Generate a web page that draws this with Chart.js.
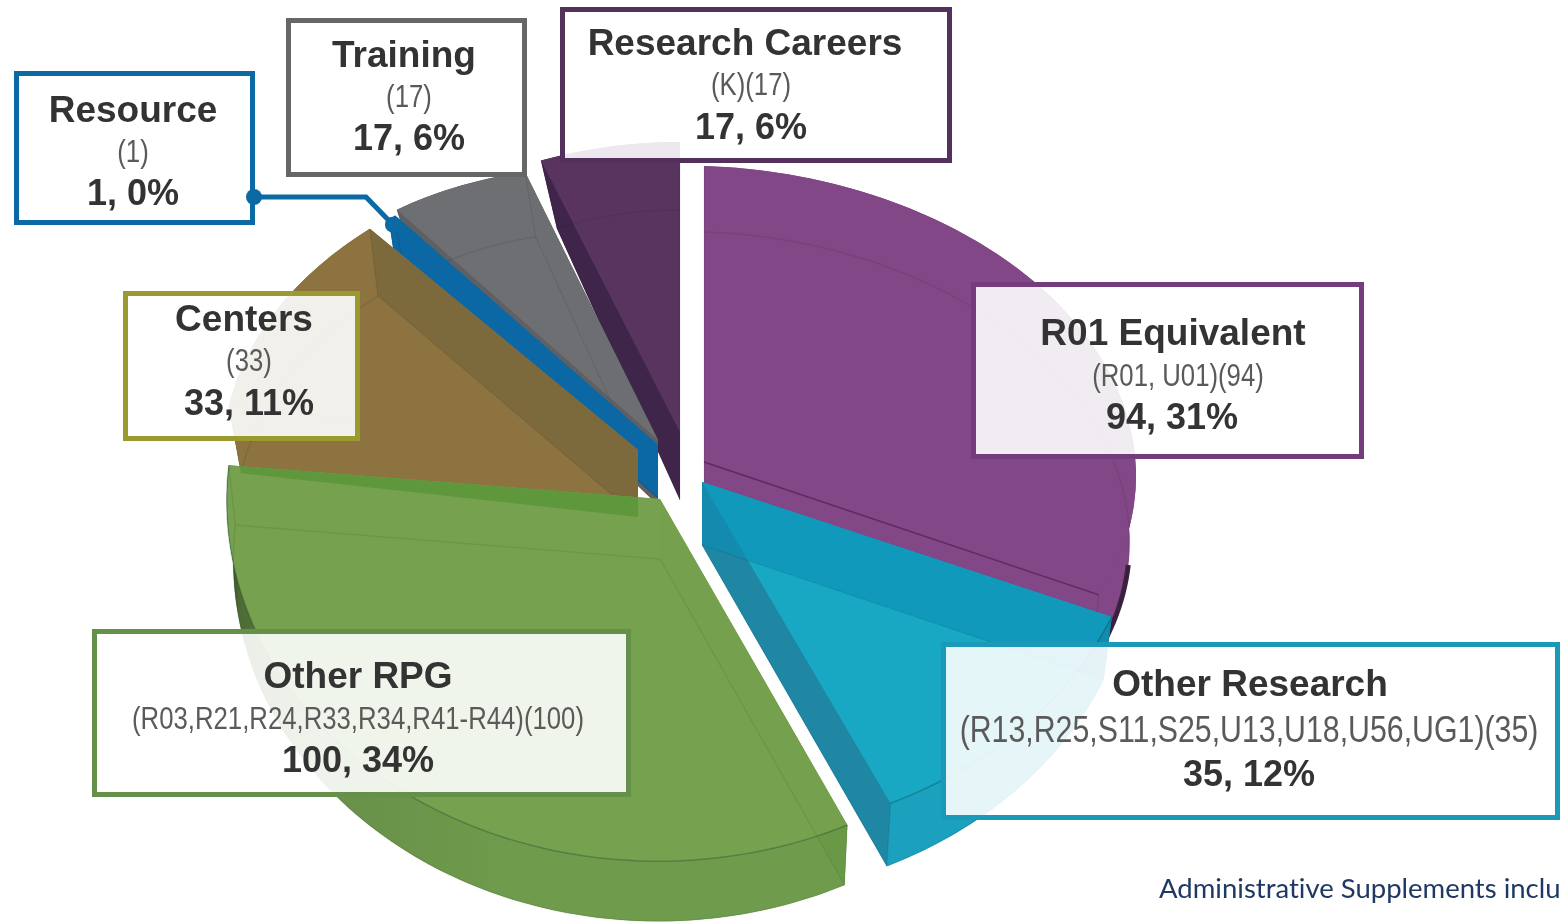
<!DOCTYPE html>
<html><head><meta charset="utf-8">
<style>html,body{margin:0;padding:0;background:#fff;overflow:hidden}canvas{display:block}</style>
<script src="https://cdn.jsdelivr.net/npm/chart.js@4"></script></head>
<body><canvas id="c" width="1560" height="923"></canvas>
<script>
const categories=['R01 Equivalent','Other Research','Other RPG','Centers','Resource','Training','Research Careers'];
const counts=[94,35,100,33,1,17,17];
const codes=['(R01, U01)(94)','(R13,R25,S11,S25,U13,U18,U56,UG1)(35)','(R03,R21,R24,R33,R34,R41-R44)(100)','(33)','(1)','(17)','(K)(17)'];
const valueLabels=['94, 31%','35, 12%','100, 34%','33, 11%','1, 0%','17, 6%','17, 6%'];
const topColors=['#824786','#19a8c4','#76a14f','#8c7340','#0c68a4','#6e6f73','#59345f'];
const wallColors=['#824786','#1f86a3','#6a9a48','#8c7340','#0c68a4','#5f6064','#3f2549'];
const rimColors=['#824786','#1ba0bd','#6c9a4b','#7c6a3a','#0c68a4','#5f6064','#3f2549'];
const seeColors=['#7a3f80','#0a8fb5','#6a9a48','#75653a','#0c68a4','#5f6064','#3f2549'];
const borderColors=['#743c7c','#1a9ab8','#64904a','#9a9a2e','#0b6aa3','#666666','#54305c'];
// projection of each slice onto the page: apex, horizontal axis, vertical axis, extrusion depth, bottom shrink
const frames=[
 {ax:704,ay:462,xx:432,xy:14,yx:0,yy:296,depth:66,s:.985},
 {ax:702,ay:482,xx:443,xy:-10,yx:12,yy:355,depth:63,s:.98},
 {ax:660,ay:499,xx:433,xy:-14,yx:15,yy:362,depth:60,s:.985},
 {ax:638,ay:450,xx:415,xy:5,yx:-16,yy:295,depth:67,s:.97},
 {ax:658,ay:445,xx:399,xy:0,yx:0,yy:305,depth:53,s:.97},
 {ax:658,ay:440,xx:410,xy:39,yx:-12,yy:272,depth:65,s:.92},
 {ax:680,ay:432,xx:395,xy:0,yx:0,yy:290,depth:68,s:.885}
];
const seeThrough=[[0,0],[.6,0],[0.02,.0],[0,.7],[0,0],[.06,.08],[0,0]];
const drawOrder=[6,5,4,3,2,0,1];
const boxes=[[971,282,393,177],[941,642,619,178],[92,629,539,168],[123,291,237,150],[14,71,241,154],[286,18,241,159],[560,7,392,156]];
const titleX=[1173,1250,358,244,133,404,745];
const subX=[1178,1249,358,249,133,409,751];
const valueX=[1172,1249,358,249,133,409,751];
const rows=[[345,377,429],[696,732,786],[688,720,772],[331,362,415],[122,153,205],[67,98,150],[55,86,139]];
const condense=.83;
const footnote='Administrative Supplements included';

function pt(f,a,bottom){
  const u=Math.cos(a),v=Math.sin(a);
  if(!bottom)return[f.ax+u*f.xx+v*f.yx,f.ay+u*f.xy+v*f.yy];
  return[f.ax+(u*f.xx+v*f.yx)*f.s,f.ay+f.depth+u*f.xy+v*f.yy];
}
function poly(ctx,p){ctx.beginPath();p.forEach((q,i)=>i?ctx.lineTo(q[0],q[1]):ctx.moveTo(q[0],q[1]));ctx.closePath();}
function radialWall(f,a){return[[f.ax,f.ay],pt(f,a),pt(f,a,true),[f.ax,f.ay+f.depth]];}
function rimPts(f,a0,a1,bottom){
  const n=Math.max(4,Math.ceil((a1-a0)*40)),t=[];
  for(let i=0;i<=n;i++)t.push(pt(f,a0+(a1-a0)*i/n,bottom));
  return t;
}
function rimWall(f,a0,a1){return rimPts(f,a0,a1).concat(rimPts(f,a0,a1,true).reverse());}
function slicePath(f,a0,a1){return[[f.ax,f.ay]].concat(rimPts(f,a0,a1));}
function drawArcIn(ctx,arc,f,bottom){
  const R=arc.outerRadius,s=bottom?f.s:1,dy=bottom?f.depth:0;
  const a=f.xx*s/R,b=f.xy/R,c=f.yx*s/R,d=f.yy/R;
  ctx.save();
  ctx.transform(a,b,c,d,f.ax-a*arc.x-c*arc.y,f.ay+dy-b*arc.x-d*arc.y);
  arc.draw(ctx);
  ctx.restore();
}
function strokePts(ctx,p,color,w){ctx.beginPath();p.forEach((q,i)=>i?ctx.lineTo(q[0],q[1]):ctx.moveTo(q[0],q[1]));ctx.strokeStyle=color;ctx.lineWidth=w;ctx.stroke();}

const pie3d={id:'pie3d',
  beforeDatasetDraw(chart,args){
    const ctx=chart.ctx,arcs=args.meta.data;
    drawOrder.forEach(i=>{
      const arc=arcs[i],f=frames[i],a0=arc.startAngle,a1=arc.endAngle;
      drawArcIn(ctx,arc,f,true);
      ctx.fillStyle=rimColors[i];
      if(i===2){
        const g=ctx.createLinearGradient(225,0,520,0);
        g.addColorStop(0,'#2d3a20');g.addColorStop(.05,'#4d6b35');g.addColorStop(.3,'#688f49');g.addColorStop(1,'#6f9c4c');
        ctx.fillStyle=g;
      }
      poly(ctx,rimWall(f,a0,a1));ctx.fill();
      ctx.fillStyle=wallColors[i];
      poly(ctx,radialWall(f,a0));ctx.fill();
      poly(ctx,radialWall(f,a1));ctx.fill();
      if(i===0)strokePts(ctx,rimPts(f,a1-.34,a1,true),'#3c2142',5);
      drawArcIn(ctx,arc,f,false);
      if(i===2){
        // the Centers base shows through the green top
        const cf=frames[3],ca=arcs[3];
        ctx.save();poly(ctx,slicePath(f,a0,a1));ctx.clip();
        ctx.fillStyle='rgba(92,150,56,.85)';
        poly(ctx,radialWall(cf,ca.startAngle));ctx.fill();
        ctx.restore();
      }
      const see=seeThrough[i];
      ctx.fillStyle=seeColors[i];
      if(see[0]){ctx.globalAlpha=see[0];poly(ctx,radialWall(f,a0));ctx.fill();}
      if(see[1]){ctx.globalAlpha=see[1];poly(ctx,radialWall(f,a1));ctx.fill();}
      ctx.globalAlpha=1;
      const faint='rgba(20,20,20,.09)';
      strokePts(ctx,rimPts(f,a0,a1,true),faint,1.5);
      strokePts(ctx,[[f.ax,f.ay+f.depth],pt(f,a0,true)],faint,1.2);
      strokePts(ctx,[[f.ax,f.ay+f.depth],pt(f,a1,true)],faint,1.2);
      strokePts(ctx,[pt(f,a0),pt(f,a0,true)],faint,1.2);
      strokePts(ctx,[pt(f,a1),pt(f,a1,true)],faint,1.2);
      if(i===0)strokePts(ctx,[[f.ax,f.ay],pt(f,a1)],'rgba(60,20,70,.55)',1.5);
      if(i===1||i===2)strokePts(ctx,rimPts(f,a0,a1),'rgba(0,50,40,.28)',1.5);
    });
    return false;
  },
  afterDraw(chart){
    const ctx=chart.ctx;
    // text boxes
    categories.forEach((name,i)=>{
      const b=boxes[i];
      ctx.fillStyle='rgba(255,255,255,.89)';
      ctx.fillRect(b[0],b[1],b[2],b[3]);
      ctx.strokeStyle=borderColors[i];ctx.lineWidth=5;
      ctx.strokeRect(b[0]+2.5,b[1]+2.5,b[2]-5,b[3]-5);
      ctx.textAlign='center';ctx.textBaseline='alphabetic';
      ctx.fillStyle='#333';ctx.font='bold 37px "Liberation Sans"';
      ctx.fillText(name,titleX[i],rows[i][0]);
      ctx.font='bold 36px "Liberation Sans"';
      ctx.fillText(valueLabels[i],valueX[i],rows[i][2]);
      ctx.fillStyle='#5a5a5a';ctx.font=(i===1?'36.5px':'31px')+' "Liberation Sans"';ctx.textBaseline='middle';
      const w=ctx.measureText(codes[i]).width;
      ctx.fillText(codes[i],subX[i],rows[i][1],w*condense);
    });
    // leader of the Resource slice
    const rs=chart.getDatasetMeta(0).data[4],rf=frames[4];
    const tip=pt(rf,(rs.startAngle+rs.endAngle)/2);
    const lead=[[254,197],[366,197],[tip[0]+1,tip[1]+7]];
    strokePts(ctx,lead,'#0b6aa3',5);
    ctx.fillStyle='#0b6aa3';
    [lead[0],lead[2]].forEach(q=>{ctx.beginPath();ctx.arc(q[0],q[1],8,0,Math.PI*2);ctx.fill();});
    ctx.textAlign='left';ctx.textBaseline='alphabetic';
    ctx.fillStyle='#1f3864';ctx.font='27.5px Lato';
    ctx.textRendering='optimizeSpeed';
    ctx.fillText(footnote,1159,898);
    ctx.textRendering='auto';
  }
};
new Chart(document.getElementById('c'),{
  type:'pie',
  data:{labels:categories,datasets:[{data:counts,backgroundColor:topColors,borderWidth:0}]},
  options:{responsive:false,animation:false,events:[],layout:{padding:0},
    plugins:{legend:{display:false},tooltip:{enabled:false}}},
  plugins:[pie3d]
});
</script></body></html>
